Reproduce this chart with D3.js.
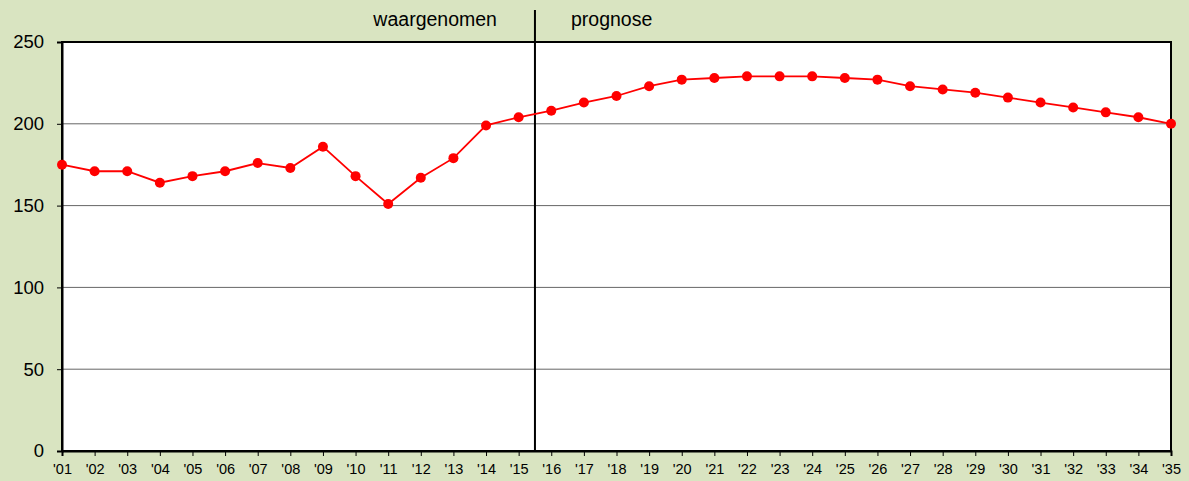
<!DOCTYPE html>
<html>
<head>
<meta charset="utf-8">
<script src="https://cdn.jsdelivr.net/npm/d3@7"></script>
<style>
  body { margin: 0; background: #d9e4c1; }
  svg { display: block; }
</style>
</head>
<body>
<div id="chart"></div>
<script>
// Years on the x axis
var years = ["'01","'02","'03","'04","'05","'06","'07","'08","'09","'10","'11","'12",
             "'13","'14","'15","'16","'17","'18","'19","'20","'21","'22","'23","'24",
             "'25","'26","'27","'28","'29","'30","'31","'32","'33","'34","'35"];

// Observed and forecast values
var values = [175, 171, 171, 164, 168, 171, 176, 173, 186, 168, 151, 167,
              179, 199, 204, 208, 213, 217, 223, 227, 228, 229, 229, 229,
              228, 227, 223, 221, 219, 216, 213, 210, 207, 204, 200];

var yTicks = [0, 50, 100, 150, 200, 250];

// Split between observed and forecast (between '15 and '16)
var splitAfter = "'15";
var leftLabel = "waargenomen";
var rightLabel = "prognose";

var width = 1189, height = 481;
var margin = { top: 42, right: 18, bottom: 30, left: 62 };
var font = "Liberation Sans, Arial, sans-serif";

var svg = d3.select("#chart").append("svg")
            .attr("width", width)
            .attr("height", height);

var x = d3.scalePoint()
          .domain(years)
          .range([margin.left, width - margin.right]);

var y = d3.scaleLinear()
          .domain([0, 250])
          .range([height - margin.bottom, margin.top]);

// Plot background
svg.append("rect")
   .attr("x", margin.left)
   .attr("y", margin.top)
   .attr("width", width - margin.right - margin.left)
   .attr("height", height - margin.bottom - margin.top)
   .attr("fill", "white");

// Gridlines
svg.selectAll("line.grid")
   .data(yTicks.slice(1, -1))
   .enter()
   .append("line")
   .attr("class", "grid")
   .attr("x1", margin.left)
   .attr("x2", width - margin.right)
   .attr("y1", function(d) { return y(d); })
   .attr("y2", function(d) { return y(d); })
   .attr("stroke", "#666")
   .attr("stroke-width", 1);

// Frame
svg.append("rect")
   .attr("x", margin.left)
   .attr("y", margin.top)
   .attr("width", width - margin.right - margin.left)
   .attr("height", height - margin.bottom - margin.top)
   .attr("fill", "none")
   .attr("stroke", "black")
   .attr("stroke-width", 2);

// Y axis
var yAxis = svg.append("g")
   .attr("transform", "translate(" + margin.left + ",0)")
   .call(d3.axisLeft(y).tickValues(yTicks).tickSize(5).tickPadding(13));
yAxis.select(".domain").attr("stroke-width", 2);
yAxis.selectAll("text")
     .attr("font-family", font)
     .attr("font-size", "18.5px")
     .attr("fill", "black");

// X axis
var xAxis = svg.append("g")
   .attr("transform", "translate(0," + (height - margin.bottom) + ")")
   .call(d3.axisBottom(x).tickSize(5).tickPadding(8));
xAxis.select(".domain").attr("stroke-width", 2);
xAxis.selectAll("text")
     .attr("font-family", font)
     .attr("font-size", "14.5px")
     .attr("fill", "black");

// Divider between observed and forecast
var splitIndex = years.indexOf(splitAfter);
var splitX = (x(years[splitIndex]) + x(years[splitIndex + 1])) / 2;
svg.append("line")
   .attr("x1", splitX)
   .attr("x2", splitX)
   .attr("y1", 10)
   .attr("y2", height - margin.bottom)
   .attr("stroke", "black")
   .attr("stroke-width", 2);

svg.append("text")
   .text(leftLabel)
   .attr("x", splitX - 38)
   .attr("y", 26)
   .attr("text-anchor", "end")
   .attr("font-family", font)
   .attr("font-size", "19.5px");

svg.append("text")
   .text(rightLabel)
   .attr("x", splitX + 36)
   .attr("y", 26)
   .attr("text-anchor", "start")
   .attr("font-family", font)
   .attr("font-size", "19.5px");

// Line
var line = d3.line()
             .x(function(d, i) { return x(years[i]); })
             .y(function(d) { return y(d); });

svg.append("path")
   .datum(values)
   .attr("d", line)
   .attr("fill", "none")
   .attr("stroke", "red")
   .attr("stroke-width", 1.8);

// Markers
svg.selectAll("circle")
   .data(values)
   .enter()
   .append("circle")
   .attr("cx", function(d, i) { return x(years[i]); })
   .attr("cy", function(d) { return y(d); })
   .attr("r", 5)
   .attr("fill", "red");
</script>
</body>
</html>
